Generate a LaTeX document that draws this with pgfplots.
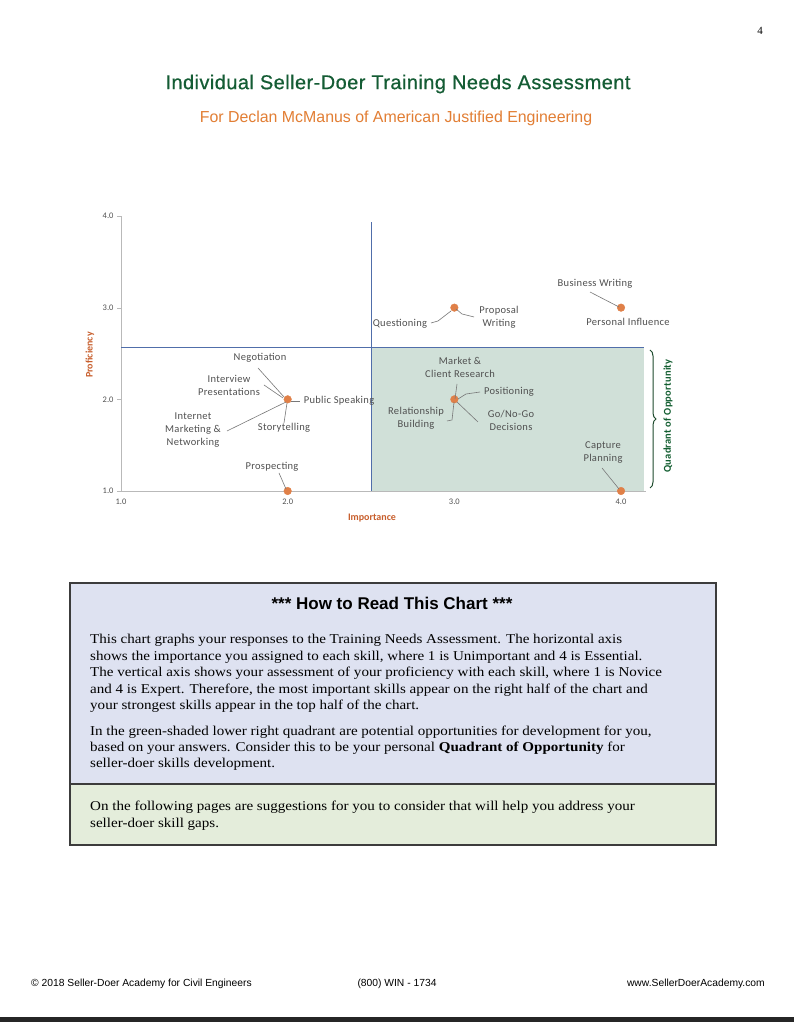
\documentclass[border=0pt]{standalone}
\usepackage{pgfplots}
\pgfplotsset{compat=1.18}
\usepackage{fontspec}
\setmainfont{Liberation Sans}
\newfontfamily\calib[LetterSpace=3]{Carlito}
\newfontfamily\calibq[LetterSpace=2]{Carlito}
\newfontfamily\calibt{Carlito}
\newfontfamily\serf[FakeStretch=1.115]{Liberation Serif}
\newfontfamily\serfplain{Liberation Serif}
\newfontfamily\titlef[LetterSpace=2.2,FakeBold=0.6]{Liberation Sans}
\usetikzlibrary{decorations.pathreplacing}
\definecolor{ptorange}{RGB}{224,128,72}
\definecolor{qblue}{RGB}{80,110,170}
\definecolor{quadgreen}{RGB}{208,224,216}
\definecolor{axgray}{RGB}{185,185,185}
\definecolor{lblgray}{RGB}{80,80,80}
\definecolor{leadgray}{RGB}{120,120,120}
\definecolor{titlegreen}{RGB}{20,92,52}
\definecolor{suborange}{RGB}{226,126,52}
\definecolor{axorange}{RGB}{200,95,45}
\definecolor{boxblue}{RGB}{222,226,241}
\definecolor{boxgreen}{RGB}{228,237,219}
\definecolor{boxline}{RGB}{60,60,60}
\definecolor{qgreentext}{RGB}{20,95,50}
\definecolor{bracegreen}{RGB}{30,75,45}
\pgfplotstableread{
x y
2 2
2 1
3 3
4 3
3 2
4 1
}\skills
\begin{document}
\begin{tikzpicture}[x=1pt,y=1pt]
\fill[white] (0,0) rectangle (794,1024);
\useasboundingbox (0,0) rectangle (794,1024);
\begin{axis}[
  at={(121pt,533pt)}, anchor=south west,
  scale only axis, width=524.7pt, height=275pt,
  xmin=1, xmax=4.148, ymin=1, ymax=4,
  axis x line*=bottom, axis y line*=left,
  axis line style={draw=axgray, -},
  xtick={1,2,3,4}, ytick={1,2,3,4},
  xtick style={draw=none},
  ytick style={draw=axgray},
  tick align=outside, major tick length=4pt,
  /pgf/number format/.cd, fixed, fixed zerofill, precision=1, assume math mode=true,
  /pgfplots/.cd,
  tick label style={font=\calibt\fontsize{8.5}{10}\selectfont, text=lblgray},
  clip=false,
]
\fill[quadgreen] (axis cs:2.5,1) rectangle (axis cs:4.14,2.57);
\draw[qblue, line width=1pt] (axis cs:2.5,1) -- (axis cs:2.5,3.93);
\draw[qblue, line width=1pt] (axis cs:1,2.57) -- (axis cs:4.14,2.57);
\addplot[only marks, mark=*, mark size=3.8pt, color=ptorange] table {\skills};
\end{axis}
\begin{scope}[shift={(0,1024)}, y=-1pt]
% page number
\node[font=\serfplain\fontsize{11}{12}\selectfont] at (760,31) {4};
% titles
\node[font=\titlef\fontsize{20}{22}\selectfont, text=titlegreen] at (398,84) {Individual Seller-Doer Training Needs Assessment};
\node[font=\fontsize{15.9}{17}\selectfont, text=suborange] at (396,118) {For Declan McManus of American Justified Engineering};
% axis titles
\node[font=\calibt\bfseries\fontsize{10}{11}\selectfont, text=axorange, rotate=90] at (90,355) {Proficiency};
\node[font=\calibt\bfseries\fontsize{10}{11}\selectfont, text=axorange] at (372,518) {Importance};
% leader lines
\begin{scope}[leadgray, line width=0.6pt]
\draw (590,292)--(619,307);
\draw (456,309)--(462,314)--(474,317);
\draw (431,323)--(438,321)--(451,311);
\draw (457,384)--(455,399);
\draw (458,399)--(466,394)--(480,392);
\draw (457,402)--(478,422);
\draw (454,402)--(452,420)--(447,421);
\draw (602,468)--(619,489);
\draw (258,368)--(284,397);
\draw (264,385)--(283,398);
\draw (291,401)--(300,401);
\draw (227,431)--(286,402);
\draw (287,403)--(284,423);
\draw (279,473)--(286,489);
\end{scope}
% labels
\begin{scope}[every node/.style={font=\calib\fontsize{10.5}{13}\selectfont, text=lblgray, align=center, inner sep=0pt}]
\node at (595,284) {Business Writing};
\node at (628,322) {Personal Influence};
\node at (499,317) {Proposal\\Writing};
\node at (400,324) {Questioning};
\node at (460,367) {Market \&\\Client Research};
\node at (509,392) {Positioning};
\node at (511,420) {Go/No-Go\\Decisions};
\node at (416,418) {Relationship\\Building};
\node at (603,453) {Capture\\Planning};
\node at (260,358) {Negotiation};
\node at (229,385) {Interview\\Presentations};
\node at (339,401) {Public Speaking};
\node at (193,430) {Internet\\Marketing \&\\Networking};
\node at (284,428) {Storytelling};
\node at (272,467) {Prospecting};
\end{scope}
% brace
\draw[decorate, decoration={brace, amplitude=6pt}, line width=1pt, bracegreen] (650,350) -- (650,488);
\node[font=\calibq\bfseries\fontsize{10.5}{11}\selectfont, text=qgreentext, rotate=90] at (668,416) {Quadrant of Opportunity};
% text box
\fill[boxblue] (70,583) rectangle (716,784);
\fill[boxgreen] (70,784) rectangle (716,845);
\draw[boxline, line width=1.2pt] (70,583) rectangle (716,845);
\draw[boxline, line width=1.2pt] (70,784) -- (716,784);
\node[font=\bfseries\fontsize{17}{18}\selectfont] at (392,603) {*** How to Read This Chart ***};
\begin{scope}[every node/.style={font=\serf\fontsize{13.5}{16}\selectfont, anchor=base west, inner sep=0pt}]
\node at (90,644) {This chart graphs your responses to the Training Needs Assessment. The horizontal axis};
\node at (90,661) {shows the importance you assigned to each skill, where 1 is Unimportant and 4 is Essential.};
\node at (90,677) {The vertical axis shows your assessment of your proficiency with each skill, where 1 is Novice};
\node at (90,694) {and 4 is Expert. Therefore, the most important skills appear on the right half of the chart and};
\node at (90,710) {your strongest skills appear in the top half of the chart.};
\node at (90,736) {In the green-shaded lower right quadrant are potential opportunities for development for you,};
\node at (90,752) {based on your answers. Consider this to be your personal \textbf{Quadrant of Opportunity} for};
\node at (90,768) {seller-doer skills development.};
\node at (90,811) {On the following pages are suggestions for you to consider that will help you address your};
\node at (90,828) {seller-doer skill gaps.};
\end{scope}
% footer
\begin{scope}[every node/.style={font=\fontsize{10.3}{11}\selectfont, inner sep=0pt}]
\node[anchor=west] at (31,984) {\textcopyright{} 2018 Seller-Doer Academy for Civil Engineers};
\node at (397,984) {(800) WIN - 1734};
\node[anchor=east] at (765,984) {www.SellerDoerAcademy.com};
\end{scope}
\fill[black!85] (0,1017) rectangle (794,1022);
\end{scope}
\end{tikzpicture}
\end{document}
